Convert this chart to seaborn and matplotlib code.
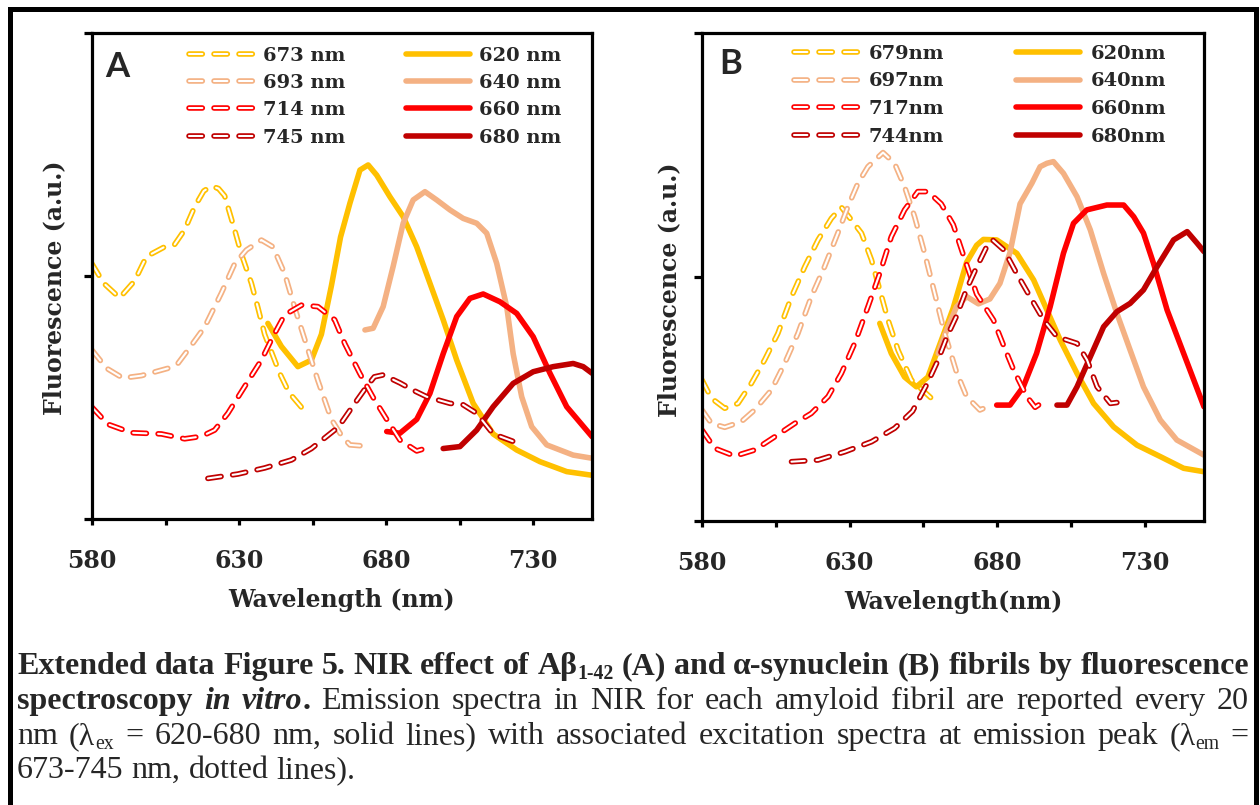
import matplotlib
matplotlib.use("Agg")
import pandas as pd
import matplotlib.pyplot as plt
import matplotlib.patheffects as pe
import matplotlib.transforms as mtransforms
from matplotlib.lines import Line2D
from matplotlib.patches import Rectangle
import seaborn as sns

# ---- panel A (Abeta 1-42): excitation (dashed) spectra ----
A_EX673_NM = [580, 584, 589.4, 594.5, 598.5, 604.7, 608.1, 611.5, 614.9, 618, 620.6, 623, 625.1, 628.5, 630.8, 634.2, 636.4, 638.7, 643.8, 647, 651.2]
A_EX673_VAL = [1.05, 0.97, 0.91, 0.98, 1.08, 1.12, 1.13, 1.19, 1.285, 1.35, 1.37, 1.36, 1.33, 1.19, 1.09, 0.97, 0.87, 0.76, 0.60, 0.52, 0.46]
A_EX693_NM = [580, 585, 590.5, 596.8, 605.8, 609.2, 612.6, 618.3, 624, 628.5, 632.5, 637.6, 641.5, 645.5, 648.9, 652.3, 656.8, 661.4, 665, 667.7, 672.8]
A_EX693_VAL = [0.695, 0.62, 0.58, 0.59, 0.62, 0.64, 0.695, 0.79, 0.93, 1.05, 1.107, 1.148, 1.12, 1.01, 0.87, 0.74, 0.57, 0.41, 0.34, 0.305, 0.30]
A_EX714_NM = [580, 585.4, 593.4, 603.6, 611.5, 617.2, 621.7, 626.2, 631.9, 637.6, 641.5, 645.5, 651.2, 656.8, 662.5, 666, 671, 675.6, 680.2, 684.7, 690.4, 693.2]
A_EX714_VAL = [0.46, 0.39, 0.355, 0.35, 0.33, 0.34, 0.366, 0.435, 0.545, 0.654, 0.75, 0.84, 0.88, 0.874, 0.82, 0.72, 0.60, 0.50, 0.41, 0.325, 0.28, 0.29]
A_EX745_NM = [619.4, 629.6, 638.7, 647.8, 654.6, 662.5, 665, 669, 673.4, 676, 679, 684.7, 689.2, 693.8, 701.7, 706.2, 710.8, 716.4, 724.4]
A_EX745_VAL = [0.167, 0.185, 0.21, 0.243, 0.29, 0.366, 0.40, 0.47, 0.545, 0.585, 0.593, 0.56, 0.53, 0.503, 0.476, 0.47, 0.435, 0.35, 0.314]

# ---- panel A: emission (solid) spectra ----
A_EM620_NM = [639.8, 644.4, 650, 654.6, 658, 661.4, 664.5, 667.7, 671.1, 673.9, 676.8, 681.3, 685.8, 690.4, 694.9, 699.4, 704, 709.6, 716.4, 724.4, 732.3, 741.4, 750]
A_EM620_VAL = [0.805, 0.71, 0.627, 0.654, 0.76, 0.96, 1.16, 1.30, 1.436, 1.457, 1.415, 1.326, 1.244, 1.12, 0.97, 0.82, 0.654, 0.476, 0.35, 0.284, 0.236, 0.195, 0.18]
A_EM640_NM = [672.8, 675.6, 679, 682.4, 685.8, 689.2, 693.2, 697.2, 701.7, 706.2, 710.8, 714.2, 717.6, 721, 723.2, 726.1, 729.5, 734.6, 743.6, 750]
A_EM640_VAL = [0.778, 0.785, 0.874, 1.04, 1.217, 1.313, 1.347, 1.313, 1.272, 1.237, 1.217, 1.176, 1.052, 0.874, 0.68, 0.503, 0.38, 0.305, 0.263, 0.25]
A_EM660_NM = [680.2, 684.7, 690.4, 694.9, 699.4, 704, 708.5, 713, 718.7, 724.4, 730, 735.7, 741.4, 750]
A_EM660_VAL = [0.36, 0.353, 0.41, 0.517, 0.68, 0.833, 0.908, 0.926, 0.894, 0.846, 0.75, 0.60, 0.462, 0.339]
A_EM680_NM = [699.4, 705.1, 710.8, 716.4, 723.2, 730, 736.8, 743.6, 747, 750]
A_EM680_VAL = [0.29, 0.298, 0.366, 0.462, 0.558, 0.606, 0.627, 0.64, 0.627, 0.60]

# ---- panel B (alpha-synuclein): excitation (dashed) spectra ----
B_EX679_NM = [580, 583.2, 587.7, 592.2, 596.7, 601.2, 605.7, 610.3, 614.8, 619.3, 623.8, 627.2, 630.6, 634, 637.4, 640.2, 643, 646.4, 650.9, 657.7]
B_EX679_VAL = [0.578, 0.503, 0.462, 0.482, 0.564, 0.66, 0.769, 0.919, 1.042, 1.152, 1.24, 1.286, 1.234, 1.18, 1.07, 0.947, 0.824, 0.70, 0.578, 0.503]
B_EX697_NM = [580, 583.2, 587.7, 593.3, 597.8, 603.5, 608, 612.5, 617, 621.5, 626, 629.4, 632.8, 636.2, 641.3, 645.2, 648.6, 652, 655.4, 658.8, 662.2, 666.2, 669.6, 674.1, 677]
B_EX697_VAL = [0.455, 0.40, 0.384, 0.407, 0.455, 0.537, 0.646, 0.769, 0.919, 1.042, 1.18, 1.288, 1.384, 1.452, 1.51, 1.466, 1.37, 1.247, 1.097, 0.933, 0.769, 0.61, 0.51, 0.455, 0.47]
B_EX717_NM = [580, 584.3, 591.1, 597.8, 604.6, 611.4, 617, 622.7, 627.2, 631.7, 636.2, 640.2, 644.1, 648.6, 653.1, 656.5, 661, 665.1, 668.5, 673, 678.7, 682.1, 685.5, 690, 692.8, 695.7]
B_EX717_VAL = [0.373, 0.298, 0.266, 0.291, 0.345, 0.40, 0.441, 0.51, 0.605, 0.728, 0.878, 1.015, 1.165, 1.275, 1.35, 1.35, 1.30, 1.214, 1.09, 0.93, 0.824, 0.72, 0.62, 0.51, 0.466, 0.489]
B_EX744_NM = [610.3, 619.3, 628.4, 637.4, 645.2, 651.3, 656.3, 659.7, 663.1, 666.2, 669.6, 673, 676.4, 678.4, 682.3, 686.3, 691.1, 695.7, 700.2, 707, 710.4, 713.8, 718.3, 722.8]
B_EX744_VAL = [0.243, 0.25, 0.284, 0.325, 0.38, 0.45, 0.564, 0.653, 0.76, 0.84, 0.95, 1.04, 1.124, 1.152, 1.11, 1.02, 0.919, 0.824, 0.755, 0.728, 0.66, 0.55, 0.482, 0.489]

# ---- panel B: emission (solid) spectra ----
B_EM620_NM = [640.2, 644.1, 648.6, 652.6, 656.5, 659.5, 665, 669.6, 673, 675.3, 679.8, 686.6, 692.3, 696.8, 701.3, 707, 712.6, 719.4, 727.3, 735.2, 743.1, 750]
B_EM620_VAL = [0.81, 0.687, 0.59, 0.55, 0.59, 0.69, 0.87, 1.06, 1.13, 1.154, 1.152, 1.097, 0.988, 0.865, 0.742, 0.605, 0.482, 0.386, 0.311, 0.264, 0.216, 0.202]
B_EM640_NM = [660, 662.9, 666.2, 669.6, 673.6, 677.5, 680.9, 684.3, 686, 687.7, 691.7, 694.5, 696.8, 699, 702.4, 707, 711.5, 716, 720.5, 725, 729.5, 735.2, 740.8, 750]
B_EM640_VAL = [0.687, 0.783, 0.878, 0.92, 0.89, 0.91, 0.974, 1.10, 1.20, 1.30, 1.384, 1.452, 1.466, 1.473, 1.425, 1.329, 1.193, 1.015, 0.851, 0.70, 0.55, 0.414, 0.332, 0.27]
B_EM660_NM = [679.8, 684.3, 688.8, 693.3, 697.9, 702.4, 705.8, 710.3, 717.1, 722.8, 726.2, 729.5, 732.9, 737.5, 743.1, 750]
B_EM660_VAL = [0.475, 0.475, 0.55, 0.687, 0.878, 1.097, 1.22, 1.275, 1.295, 1.295, 1.247, 1.18, 1.056, 0.865, 0.687, 0.468]
B_EM680_NM = [700.2, 703.6, 707, 711.5, 716, 720.5, 725, 729.5, 734.1, 739.7, 744.3, 747.7, 750]
B_EM680_VAL = [0.475, 0.475, 0.55, 0.673, 0.796, 0.858, 0.892, 0.947, 1.042, 1.152, 1.186, 1.138, 1.104]

COLORS = ["#FFC000", "#F4B183", "#FF0000", "#C00000"]

A_EX_LABELS = ["673 nm", "693 nm", "714 nm", "745 nm"]
A_EM_LABELS = ["620 nm", "640 nm", "660 nm", "680 nm"]
B_EX_LABELS = ["679nm", "697nm", "717nm", "744nm"]
B_EM_LABELS = ["620nm", "640nm", "660nm", "680nm"]

X_MAJOR = [580, 630, 680, 730]
X_MINOR = [605, 655, 705]
Y_TICKS = [0, 1, 2]

CAPTION_LINES = [
    [("Extended data Figure 5. NIR effect of Aβ", "b"), ("1-42", "b_sub"),
     (" (A) and α-synuclein (B) fibrils by fluorescence", "b")],
    [("spectroscopy ", "b"), ("in vitro", "bi"), (". ", "b"),
     ("Emission spectra in NIR for each amyloid fibril are reported every 20", "r")],
    [("nm (λ", "r"), ("ex", "r_sub"),
     (" = 620-680 nm, solid lines) with associated excitation spectra at emission peak (λ", "r"),
     ("em", "r_sub"), (" =", "r")],
    [("673-745 nm, dotted lines).", "r")],
]

W, H = 1260, 805
DASH = (9.6, 8.4)
OUTER_LW = 4.0
INNER_LW = 1.5
SOLID_LW = 4.0


def hollow_effects():
    return [pe.Normal(), pe.Stroke(linewidth=INNER_LW, foreground="white")]


def draw_curve(ax, nm, val, color, dashed):
    df = pd.DataFrame({"nm": nm, "val": val})
    sns.lineplot(data=df, x="nm", y="val", ax=ax, color=color,
                 linewidth=OUTER_LW if dashed else SOLID_LW,
                 estimator=None, sort=False, errorbar=None, legend=False)
    line = ax.lines[-1]
    line.set_solid_capstyle("round")
    line.set_solid_joinstyle("round")
    line.set_dash_capstyle("round")
    line.set_dash_joinstyle("round")
    if dashed:
        line.set_dashes(DASH)
        line.set_path_effects(hollow_effects())
    return line


def legend_handles(ex_labels, em_labels):
    handles = []
    for c, lab in zip(COLORS, ex_labels):
        h = Line2D([], [], color=c, lw=OUTER_LW, dashes=DASH,
                   dash_capstyle="round", label=lab)
        h.set_path_effects(hollow_effects())
        handles.append(h)
    for c, lab in zip(COLORS, em_labels):
        handles.append(Line2D([], [], color=c, lw=SOLID_LW,
                              solid_capstyle="round", label=lab))
    return handles


def style_axes(ax, xlabel):
    ax.set_xlim(580, 750)
    ax.set_ylim(0, 2)
    ax.set_xticks(X_MAJOR)
    ax.set_xticks(X_MINOR, minor=True)
    ax.set_yticks(Y_TICKS)
    ax.set_yticklabels([])
    for sp in ax.spines.values():
        sp.set_visible(True)
        sp.set_linewidth(2.3)
        sp.set_color("black")
    ax.tick_params(axis="x", which="both", direction="out", length=4.5,
                   width=2.3, color="black", bottom=True)
    ax.tick_params(axis="x", which="major", labelsize=17, pad=17)
    ax.tick_params(axis="y", direction="out", length=6, width=2.3,
                   color="black", left=True)
    ax.set_xlabel(xlabel, fontsize=17, fontweight="bold", labelpad=11)
    ax.set_ylabel("Fluorescence (a.u.)", fontsize=17, fontweight="bold")
    ax.set_facecolor("white")


def caption_words(segments):
    words = [[]]
    for text, style in segments:
        for k, piece in enumerate(text.split(" ")):
            if k > 0:
                words.append([])
            if piece:
                words[-1].append((piece, style))
    return [w for w in words if w]


def draw_caption(fig, renderer):
    size = 23.0
    px = size * fig.dpi / 72
    left, right = 17, 1249
    baselines = [674, 709, 744, 778]
    styles = {
        "b": ("bold", "normal", False),
        "bi": ("bold", "italic", False),
        "r": ("normal", "normal", False),
        "b_sub": ("bold", "normal", True),
        "r_sub": ("normal", "normal", True),
    }
    ident = mtransforms.IdentityTransform()
    for i, segs in enumerate(CAPTION_LINES):
        words = caption_words(segs)
        placed = []
        for word in words:
            runs = []
            wsum = 0
            for piece, st in word:
                weight, fstyle, sub = styles[st]
                t = fig.text(0, 0, piece, transform=ident, family="Liberation Serif",
                             fontsize=size * (0.62 if sub else 1.0), fontweight=weight,
                             fontstyle=fstyle, ha="left", va="baseline")
                w = t.get_window_extent(renderer).width
                runs.append((t, wsum, sub))
                wsum += w
            placed.append((runs, wsum))
        total = sum(p[1] for p in placed)
        if i < len(CAPTION_LINES) - 1 and len(placed) > 1:
            gap = (right - left - total) / (len(placed) - 1)
        else:
            gap = 0.25 * px
        x = left
        y = H - baselines[i]
        for runs, wsum in placed:
            for t, off, sub in runs:
                t.set_position((x + off, y - (0.17 * px if sub else 0)))
            x += wsum + gap


sns.set_style("white")
plt.rcParams["font.family"] = ["DejaVu Serif"]
plt.rcParams["font.weight"] = "bold"
plt.rcParams["lines.scale_dashes"] = False

fig = plt.figure(figsize=(W / 100, H / 100), dpi=100)
fig.patch.set_facecolor("white")

ax_a = fig.add_axes([92 / W, (H - 519) / H, 500 / W, 486 / H])
ax_b = fig.add_axes([702 / W, (H - 521) / H, 502 / W, 488 / H])

panels = [
    (ax_a,
     [(A_EX673_NM, A_EX673_VAL), (A_EX693_NM, A_EX693_VAL), (A_EX714_NM, A_EX714_VAL), (A_EX745_NM, A_EX745_VAL)],
     [(A_EM620_NM, A_EM620_VAL), (A_EM640_NM, A_EM640_VAL), (A_EM660_NM, A_EM660_VAL), (A_EM680_NM, A_EM680_VAL)]),
    (ax_b,
     [(B_EX679_NM, B_EX679_VAL), (B_EX697_NM, B_EX697_VAL), (B_EX717_NM, B_EX717_VAL), (B_EX744_NM, B_EX744_VAL)],
     [(B_EM620_NM, B_EM620_VAL), (B_EM640_NM, B_EM640_VAL), (B_EM660_NM, B_EM660_VAL), (B_EM680_NM, B_EM680_VAL)]),
]

for ax, ex_curves, em_curves in panels:
    for (nm, val), c in zip(em_curves, COLORS):
        draw_curve(ax, nm, val, c, dashed=False)
    for (nm, val), c in zip(ex_curves, COLORS):
        draw_curve(ax, nm, val, c, dashed=True)

style_axes(ax_a, "Wavelength (nm)")
style_axes(ax_b, "Wavelength(nm)")
ax_a.yaxis.set_label_coords(-0.051, 0.476)
ax_b.yaxis.set_label_coords(-0.042, 0.473)

leg_font = {"family": "DejaVu Serif", "weight": "bold", "size": 14}
ax_a.legend(handles=legend_handles(A_EX_LABELS, A_EM_LABELS), ncol=2, loc="upper left",
            bbox_to_anchor=(0.194, 0.972), frameon=False, borderpad=0, borderaxespad=0,
            handlelength=3.3, handletextpad=0.5, columnspacing=3.1, labelspacing=0.48,
            prop=leg_font)
ax_b.legend(handles=legend_handles(B_EX_LABELS, B_EM_LABELS), ncol=2, loc="upper left",
            bbox_to_anchor=(0.183, 0.976), frameon=False, borderpad=0, borderaxespad=0,
            handlelength=3.3, handletextpad=0.55, columnspacing=3.7, labelspacing=0.5,
            prop=leg_font)

ax_a.text(0.026, 0.9095, "A", transform=ax_a.transAxes, family="Lato", fontweight="bold",
          fontsize=25, ha="left", va="baseline")
ax_b.text(0.034, 0.916, "B", transform=ax_b.transAxes, family="Lato", fontweight="bold",
          fontsize=25, ha="left", va="baseline")

# outer frame around the whole figure
fig.patches.append(Rectangle((10 / W, -10 / H), 1246 / W, (H - 8.5 + 10) / H,
                             transform=fig.transFigure, fill=False, lw=3.6,
                             edgecolor="black"))

renderer = fig.canvas.get_renderer()
draw_caption(fig, renderer)

fig.savefig("out.png", dpi=100, facecolor="white")
